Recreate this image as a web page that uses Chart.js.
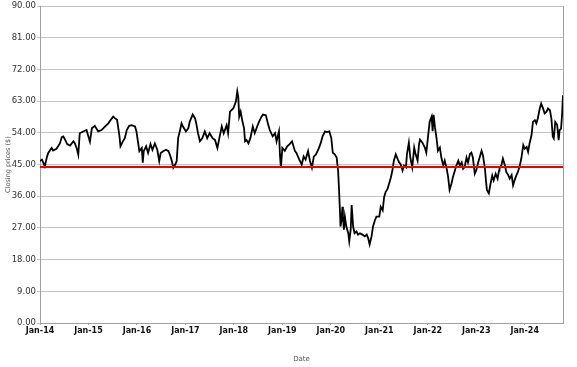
<!DOCTYPE html>
<html>
<head>
<meta charset="utf-8">
<script src="https://cdn.jsdelivr.net/npm/chart.js@4/dist/chart.umd.min.js"></script>
<style>
  body { margin: 0; background: #fff; }
  #wrap { width: 577px; height: 367px; }
</style>
</head>
<body>
<div id="wrap"><canvas id="grafico" width="577" height="367"></canvas></div>
<script>
// fecha en años decimales
const dates = [
  2014.00, 2014.04, 2014.10, 2014.14, 2014.17, 2014.24, 2014.27, 2014.34, 2014.41, 2014.45, 2014.48, 2014.52, 2014.56, 2014.62, 2014.69, 2014.72, 2014.76, 2014.79, 2014.82, 2014.89, 2014.96,
  2015.03, 2015.07, 2015.13, 2015.20, 2015.27, 2015.34, 2015.41, 2015.46, 2015.51, 2015.55, 2015.59, 2015.64, 2015.66, 2015.71, 2015.75, 2015.79, 2015.84, 2015.89, 2015.96, 2015.99,
  2016.01, 2016.05, 2016.10, 2016.12, 2016.14, 2016.19, 2016.23, 2016.28, 2016.32, 2016.37, 2016.42, 2016.46, 2016.49, 2016.54, 2016.60, 2016.65, 2016.68, 2016.72, 2016.75, 2016.79, 2016.82, 2016.85, 2016.89, 2016.92, 2016.95,
  2017.01, 2017.06, 2017.09, 2017.15, 2017.20, 2017.23, 2017.26, 2017.30, 2017.35, 2017.40, 2017.45, 2017.50, 2017.56, 2017.61, 2017.66, 2017.70, 2017.75, 2017.79, 2017.85, 2017.88, 2017.92, 2017.99,
  2018.04, 2018.07, 2018.09, 2018.11, 2018.14, 2018.17, 2018.21, 2018.23, 2018.26, 2018.30, 2018.34, 2018.39, 2018.43, 2018.48, 2018.52, 2018.57, 2018.60, 2018.66, 2018.71, 2018.74, 2018.80, 2018.85, 2018.88, 2018.93, 2018.95, 2018.97,
  2019.00, 2019.05, 2019.10, 2019.15, 2019.20, 2019.26, 2019.29, 2019.35, 2019.40, 2019.44, 2019.48, 2019.53, 2019.57, 2019.61, 2019.65, 2019.69, 2019.74, 2019.79, 2019.83, 2019.88, 2019.92, 2019.97,
  2020.01, 2020.04, 2020.08, 2020.12, 2020.15, 2020.17, 2020.19, 2020.20, 2020.22, 2020.24, 2020.25, 2020.27, 2020.29, 2020.32, 2020.36, 2020.38, 2020.41, 2020.43, 2020.46, 2020.49, 2020.53, 2020.56, 2020.60, 2020.65, 2020.70, 2020.74, 2020.77, 2020.80, 2020.84, 2020.87, 2020.91, 2020.94,
  2021.00, 2021.03, 2021.07, 2021.10, 2021.13, 2021.17, 2021.20, 2021.24, 2021.27, 2021.30, 2021.34, 2021.38, 2021.41, 2021.44, 2021.48, 2021.51, 2021.55, 2021.57, 2021.61, 2021.64, 2021.68, 2021.72, 2021.75, 2021.79, 2021.82, 2021.84, 2021.89, 2021.94, 2021.97,
  2022.01, 2022.04, 2022.08, 2022.10, 2022.12, 2022.15, 2022.18, 2022.21, 2022.25, 2022.28, 2022.32, 2022.35, 2022.39, 2022.42, 2022.45, 2022.49, 2022.52, 2022.56, 2022.59, 2022.63, 2022.66, 2022.70, 2022.73, 2022.76, 2022.80, 2022.83, 2022.87, 2022.90, 2022.93, 2022.97,
  2023.00, 2023.04, 2023.07, 2023.11, 2023.14, 2023.18, 2023.20, 2023.22, 2023.26, 2023.29, 2023.33, 2023.36, 2023.40, 2023.44, 2023.47, 2023.48, 2023.52, 2023.55, 2023.59, 2023.62, 2023.66, 2023.69, 2023.73, 2023.76, 2023.79, 2023.83, 2023.86, 2023.90, 2023.93, 2023.95, 2023.97,
  2024.00, 2024.04, 2024.07, 2024.10, 2024.14, 2024.17, 2024.21, 2024.24, 2024.27, 2024.31, 2024.34, 2024.38, 2024.41, 2024.45, 2024.48, 2024.52, 2024.55, 2024.58, 2024.60, 2024.63, 2024.67, 2024.70, 2024.72, 2024.75, 2024.77, 2024.79
];

const closes = [
  46, 46.4, 44.5, 47, 48.3, 49.7, 49, 49.5, 51, 52.8, 53, 52, 50.8, 50.4, 51.6, 51, 49.5, 47.8, 53.9, 54.4, 54.8,
  51.5, 55.3, 56, 54.4, 54.8, 55.8, 56.7, 57.7, 58.6, 58.1, 57.7, 53, 50.2, 51.6, 52.5, 54.8, 56, 56.2, 55.8, 54.4,
  52.5, 48.8, 49.7, 45.5, 48.8, 50.2, 48.3, 50.8, 49.2, 51, 49.2, 46, 48.3, 48.8, 49.2, 48.8, 47.8, 46, 44.1, 45, 46, 52.5, 54.8, 56.7, 55.8,
  54.4, 55.3, 57.2, 59.2, 58.1, 56.2, 53.9, 51.6, 52.5, 54.4, 52.5, 53.9, 52.5, 52, 49.7, 52.5, 55.8, 53.9, 56.2, 53.9, 60, 61,
  62.8, 65.8, 64.2, 58.6, 60, 57.7, 55.3, 51.6, 52, 51, 52.5, 55.8, 53.9, 55.8, 57.2, 58.6, 59.2, 59, 56.2, 54.8, 53, 53.9, 51.6, 54.4, 47.8, 44.1,
  49.7, 48.9, 50.2, 50.8, 51.6, 48.8, 48.3, 46.4, 45, 47.3, 46.4, 48.8, 46, 44.1, 47.3, 47.8, 49.2, 51, 53, 54.4, 54.2, 54.4,
  52.5, 48.4, 47.9, 47, 43.3, 37.7, 31.1, 27.4, 29.2, 33, 30.2, 26.5, 30.2, 27.4, 25.5, 23.2, 26.5, 33.5, 27.4, 25.5, 26, 25.1, 25.5, 25.1, 24.6, 25.1, 24.1, 22.3, 24.6, 27.4, 29.2, 30.2,
  30.2, 33, 32, 35.8, 37.2, 38.1, 39.5, 41.4, 43.3, 46.1, 47.9, 46.5, 45.6, 45.1, 43.3, 44.7, 44.2, 47.9, 51.2, 47, 44.2, 49.8, 47.9, 46.1, 50.7, 52.1, 51.2, 49.8, 48.4,
  53.5, 57.2, 58.6, 54.5, 59.1, 55.4, 52.6, 48.9, 49.8, 47, 44.7, 46.1, 43.8, 41.5, 37.8, 39.6, 41.5, 43.3, 44.7, 46.1, 44.7, 45.6, 43.8, 44.3, 47, 45.6, 48, 48.4, 47, 42.4,
  43.3, 45.6, 47, 48.9, 47.5, 43.8, 40.5, 37.8, 36.8, 39.2, 41.9, 40.5, 42.4, 41, 43.3, 43.9, 44.8, 46.7, 44.8, 42.9, 42, 41, 42, 39.1, 40.5, 42, 42.9, 44.8, 46.7, 48.6, 50.5,
  49.5, 50, 48.6, 51, 53.3, 57.1, 57.6, 56.7, 58.1, 60.9, 62.3, 60.9, 59.5, 60, 60.9, 60.4, 58.1, 52.9, 52.4, 57.1, 56.2, 51.9, 54.8, 55.2, 59, 64.7
];

// línea roja horizontal
const redLevel = 44.3;
const yTicks = [0, 9, 18, 27, 36, 45, 54, 63, 72, 81, 90];
const yearTicks = [2014, 2015, 2016, 2017, 2018, 2019, 2020, 2021, 2022, 2023, 2024];

const xMin = dates[0];
const xMax = dates[dates.length - 1];

// borde derecho del área del gráfico
const plotBorder = {
  id: 'plotBorder',
  afterDraw(chart) {
    const { ctx, chartArea } = chart;
    ctx.save();
    ctx.strokeStyle = '#a0a0a0';
    ctx.lineWidth = 1;
    ctx.beginPath();
    ctx.moveTo(chartArea.right + 0.5, chartArea.top);
    ctx.lineTo(chartArea.right + 0.5, chartArea.bottom);
    ctx.stroke();
    ctx.restore();
  }
};

const ctx = document.getElementById('grafico').getContext('2d');
const grafico = new Chart(ctx, {
  type: 'line',
  data: {
    datasets: [
      {
        label: 'Precio',
        data: dates.map((d, i) => ({ x: d, y: closes[i] })),
        borderColor: '#000000',
        borderWidth: 1.8,
        pointRadius: 0,
        tension: 0,
        order: 2
      },
      {
        label: 'Nivel',
        data: [{ x: xMin, y: redLevel }, { x: xMax, y: redLevel }],
        borderColor: '#ee0000',
        borderWidth: 2,
        pointRadius: 0,
        order: 1
      }
    ]
  },
  options: {
    responsive: false,
    animation: false,
    layout: { padding: { top: 4, right: 14, left: 0, bottom: 0 } },
    plugins: { legend: { display: false }, tooltip: { enabled: false } },
    scales: {
      x: {
        type: 'linear',
        min: xMin,
        max: xMax,
        afterFit: s => { s.height = 44; },
        afterBuildTicks: s => { s.ticks = yearTicks.map(v => ({ value: v })); },
        ticks: {
          autoSkip: false,
          maxRotation: 0,
          padding: 1,
          color: '#111',
          font: { family: 'DejaVu Sans', size: 8, weight: 'bold' },
          callback: v => 'Jan-' + String(v).slice(2)
        },
        grid: { drawOnChartArea: false, tickLength: 2, color: '#a0a0a0' },
        border: { color: '#a0a0a0' },
        title: {
          display: true,
          text: 'Date',
          color: '#555',
          font: { family: 'DejaVu Sans', size: 7 },
          padding: { top: 0, bottom: 4 }
        }
      },
      y: {
        min: 0,
        max: 90,
        afterFit: s => { s.width = 40; },
        afterBuildTicks: s => { s.ticks = yTicks.map(v => ({ value: v })); },
        ticks: {
          padding: 1,
          color: '#333',
          font: { family: 'DejaVu Sans', size: 8.5 },
          callback: v => v.toFixed(2)
        },
        grid: { color: '#c4c4c4', tickLength: 3 },
        border: { color: '#a0a0a0' },
        title: {
          display: true,
          text: 'Closing prices ($)',
          color: '#555',
          font: { family: 'DejaVu Sans', size: 6.5 },
          padding: { top: 4, bottom: 0 }
        }
      }
    }
  },
  plugins: [plotBorder]
});
</script>
</body>
</html>
